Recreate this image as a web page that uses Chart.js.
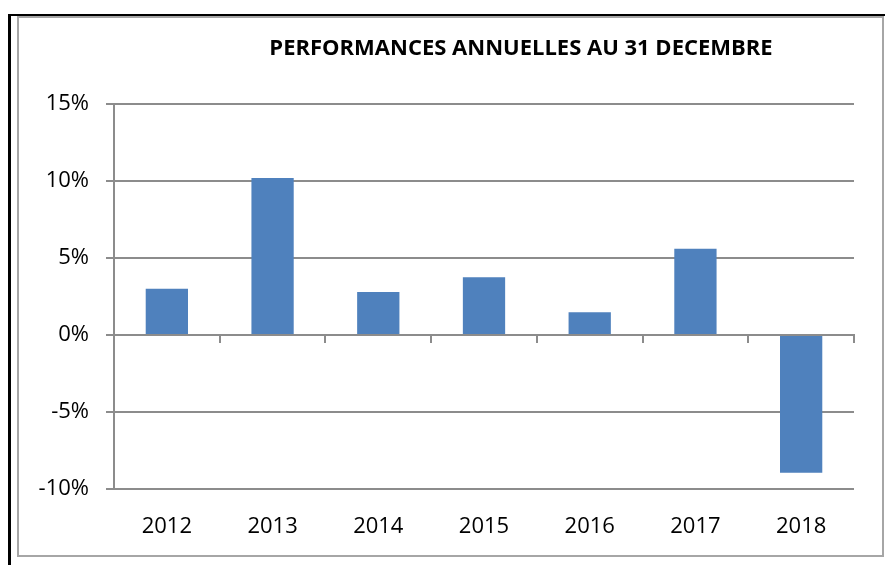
<!DOCTYPE html>
<html>
<head>
<meta charset="utf-8">
<script src="https://cdn.jsdelivr.net/npm/chart.js@4.4.1/dist/chart.umd.min.js"></script>
<style>
  html, body { margin: 0; padding: 0; background: #fff; overflow: hidden; }
  #cadre { position: absolute; left: 8px; top: 14px; width: 877px; height: 560px;
           border-left: 3px solid #000; border-top: 2px solid #000; box-sizing: border-box; }
  #boite { position: absolute; left: 17px; top: 16px; width: 867px; height: 541px;
           border: 2px solid #a6a6a6; box-sizing: border-box; }
  #zone { position: absolute; left: 19px; top: 18px; width: 863px; height: 537px; }
</style>
</head>
<body>
<div id="cadre"></div>
<div id="boite"></div>
<div id="zone"><canvas id="perfChart"></canvas></div>
<script>
const annees = ['2012', '2013', '2014', '2015', '2016', '2017', '2018'];
const performances = [3.0, 10.2, 2.8, 3.75, 1.47, 5.6, -8.95];
const titre = 'PERFORMANCES ANNUELLES AU 31 DECEMBRE';
const grisAxe = '#8c8c8c';

// titre dessiné à la main (décalé à droite comme dans Excel)
const titrePlugin = {
    id: 'titrePlugin',
    afterDraw(chart) {
        const c = chart.ctx;
        c.save();
        c.font = 'bold 22px "Open Sans"';
        c.fillStyle = '#000';
        c.textAlign = 'center';
        c.textBaseline = 'middle';
        c.fillText(titre, 502, 31);
        c.restore();
    }
};

const ctx = document.getElementById('perfChart').getContext('2d');
new Chart(ctx, {
    type: 'bar',
    data: {
        labels: annees,
        datasets: [{
            data: performances,
            backgroundColor: '#4f81bd',
            borderWidth: 0,
            categoryPercentage: 1,
            barPercentage: 0.4,
        }]
    },
    options: {
        responsive: true,
        maintainAspectRatio: false,
        animation: false,
        layout: { padding: { top: 86, right: 28, left: 0, bottom: 0 } },
        plugins: { legend: { display: false }, tooltip: { enabled: false } },
        scales: {
            x: {
                grid: { display: false },
                border: { display: false },
                ticks: { color: '#000', padding: 17, font: { family: 'Open Sans', size: 22 } },
                afterFit(scale) { scale.height = 66; }
            },
            x2: {
                position: { y: 0 },
                offset: true,
                grid: { display: true, drawOnChartArea: false, drawTicks: true, tickLength: 7, color: grisAxe, lineWidth: 2, offset: true },
                border: { display: true, color: grisAxe, width: 2 },
                ticks: { display: false }
            },
            y: {
                min: -10,
                max: 15,
                ticks: {
                    stepSize: 5,
                    color: '#000',
                    padding: 17,
                    font: { family: 'Open Sans', size: 22 },
                    callback: v => v + '%'
                },
                grid: { color: grisAxe, lineWidth: 2, tickLength: 8 },
                border: { display: true, color: grisAxe, width: 2 },
                afterFit(scale) { scale.width = 95; }
            }
        }
    },
    plugins: [titrePlugin]
});
</script>
</body>
</html>
